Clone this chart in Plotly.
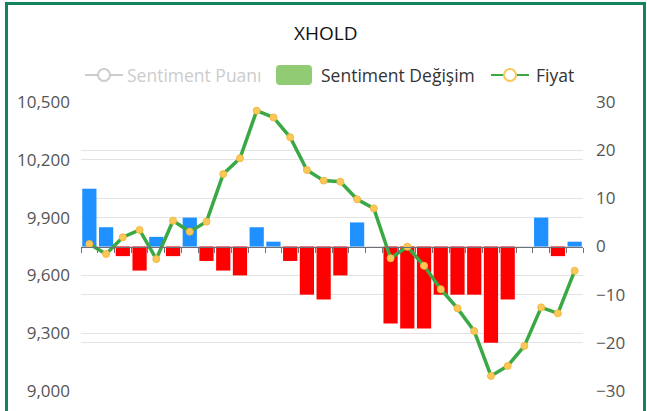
import plotly.graph_objects as go

title = "XHOLD"
categories = [f"G{i+1}" for i in range(30)]
sentiment_change = [12, 4, -2, -5, 2, -2, 6, -3, -5, -6,
                    4, 1, -3, -10, -11, -6, 5, 0, -16, -17,
                    -17, -10, -10, -10, -20, -11, 0, 6, -2, 1]
price = [9763, 9711, 9798, 9836, 9685, 9884, 9827, 9879, 10126, 10208,
         10455, 10420, 10317, 10147, 10092, 10086, 9995, 9948, 9689, 9749,
         9650, 9528, 9429, 9311, 9078, 9130, 9234, 9434, 9403, 9624]
price_ticks = [9000, 9300, 9600, 9900, 10200, 10500]
change_ticks = [-30, -20, -10, 0, 10, 20, 30]
legend_names = ["Sentiment Puanı", "Sentiment Değişim", "Fiyat"]

W, H = 647, 411
L, R, T, B = 81, 583, 102, 391
FONT = "Open Sans"

def px(x):
    return (x - L) / (R - L)

def py(y):
    return (B - y) / (B - T)

bar_colors = ["#1e90ff" if v >= 0 else "#ff0000" for v in sentiment_change]

fig = go.Figure()
fig.add_trace(go.Bar(x=categories, y=sentiment_change, marker=dict(color=bar_colors, line=dict(width=0)),
                     name=legend_names[1], yaxis="y", showlegend=False))
fig.add_trace(go.Scatter(x=categories, y=price, mode="lines+markers", name=legend_names[2], yaxis="y2",
                         line=dict(color="#3aa845", width=3.5),
                         marker=dict(color="#fac858", size=7, line=dict(color="#f5b942", width=1)),
                         showlegend=False))

shapes = []
annotations = []
# border
shapes.append(dict(type="rect", xref="paper", yref="paper", x0=px(6.5), x1=px(644.5), y0=py(440), y1=py(3.5),
                   line=dict(color="#14825e", width=3), fillcolor="rgba(0,0,0,0)", layer="above"))
# title
annotations.append(dict(text=title, xref="paper", yref="paper", x=px(325), y=py(33), showarrow=False,
                        font=dict(family=FONT, size=19, color="#111111"), xanchor="center", yanchor="middle"))
# legend item 1 (disabled)
ly = 75
LF = 17.5
shapes.append(dict(type="line", xref="paper", yref="paper", x0=px(85), x1=px(123), y0=py(ly), y1=py(ly),
                   line=dict(color="#cccccc", width=2)))
shapes.append(dict(type="circle", xref="paper", yref="paper", x0=px(98), x1=px(110), y0=py(ly + 6), y1=py(ly - 6),
                   line=dict(color="#cccccc", width=2), fillcolor="white"))
annotations.append(dict(text=legend_names[0], xref="paper", yref="paper", x=px(125), y=py(ly), showarrow=False,
                        font=dict(family=FONT, size=LF, color="#cccccc"), xanchor="left", yanchor="middle"))
# legend item 2
x0, x1, y0, y1, r = 276, 312, 65, 85, 4
path = (f"M {px(x0 + r)},{py(y0)} L {px(x1 - r)},{py(y0)} Q {px(x1)},{py(y0)} {px(x1)},{py(y0 + r)} "
        f"L {px(x1)},{py(y1 - r)} Q {px(x1)},{py(y1)} {px(x1 - r)},{py(y1)} "
        f"L {px(x0 + r)},{py(y1)} Q {px(x0)},{py(y1)} {px(x0)},{py(y1 - r)} "
        f"L {px(x0)},{py(y0 + r)} Q {px(x0)},{py(y0)} {px(x0 + r)},{py(y0)} Z")
shapes.append(dict(type="path", xref="paper", yref="paper", path=path, fillcolor="#91cc75", line=dict(width=0)))
annotations.append(dict(text=legend_names[1], xref="paper", yref="paper", x=px(319), y=py(ly), showarrow=False,
                        font=dict(family=FONT, size=LF, color="#333333"), xanchor="left", yanchor="middle"))
# legend item 3
shapes.append(dict(type="line", xref="paper", yref="paper", x0=px(491), x1=px(529), y0=py(ly), y1=py(ly),
                   line=dict(color="#3aa845", width=2)))
shapes.append(dict(type="circle", xref="paper", yref="paper", x0=px(504), x1=px(516), y0=py(ly + 6), y1=py(ly - 6),
                   line=dict(color="#fac858", width=2), fillcolor="white"))
annotations.append(dict(text=legend_names[2], xref="paper", yref="paper", x=px(534), y=py(ly), showarrow=False,
                        font=dict(family=FONT, size=LF, color="#333333"), xanchor="left", yanchor="middle"))

fig.update_layout(
    width=W, height=H,
    margin=dict(l=L, r=W - R, t=T, b=H - B, pad=0, autoexpand=False),
    paper_bgcolor="white", plot_bgcolor="white",
    bargap=0.15,
    showlegend=False,
    shapes=shapes, annotations=annotations,
    font=dict(family=FONT, size=17, color="#555555"),
    xaxis=dict(type="category", anchor="free", position=0.5, range=[-0.5, len(categories) - 0.5],
               showline=True, linecolor="#6e7079", linewidth=1,
               ticks="outside", ticklen=5, tickcolor="#6e7079", tickson="boundaries",
               showticklabels=False, showgrid=False, zeroline=False, automargin=False),
    yaxis=dict(side="right", range=[-30, 30], tickvals=change_ticks, showgrid=True, gridcolor="#e3e3e3",
               zeroline=False, ticks="", ticklabelstandoff=12, automargin=False,
               tickfont=dict(size=17, color="#555555")),
    yaxis2=dict(side="left", overlaying="y", range=[9000, 10500], tickvals=price_ticks, tickformat=",",
                showgrid=True, gridcolor="#e3e3e3", zeroline=False, ticks="", ticklabelstandoff=10,
                automargin=False, tickfont=dict(size=17, color="#555555")),
)

fig.write_html("out.html", config={"displayModeBar": False},
               post_script="document.body.style.margin='0';document.body.style.overflow='hidden';")
